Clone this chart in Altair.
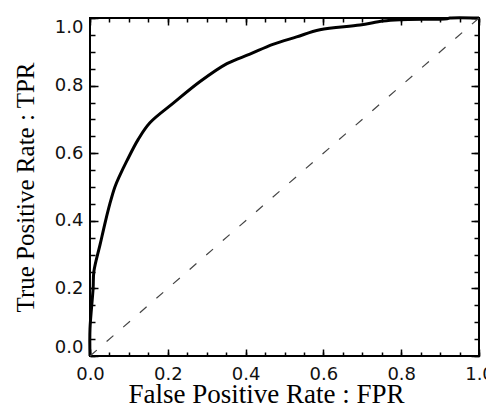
import altair as alt
import pandas as pd

# ROC curve
fpr = [0.0, 0.0, 0.008, 0.01, 0.026, 0.04, 0.051, 0.064, 0.077, 0.095, 0.124,
       0.154, 0.214, 0.283, 0.352, 0.411, 0.47, 0.531, 0.591, 0.694,
       0.753, 0.797, 0.918, 0.925, 1.0]
tpr = [0.0, 0.08, 0.2, 0.25, 0.33, 0.40, 0.45, 0.50, 0.535, 0.578, 0.641,
       0.69, 0.748, 0.812, 0.865, 0.893, 0.922, 0.944, 0.965, 0.979,
       0.991, 0.995, 0.998, 1.0, 1.0]
diag = [0.0, 1.0]
major_ticks = [0.0, 0.2, 0.4, 0.6, 0.8, 1.0]
minor_ticks = [0.0, 0.05, 0.1, 0.15, 0.2, 0.25, 0.3, 0.35, 0.4, 0.45, 0.5,
               0.55, 0.6, 0.65, 0.7, 0.75, 0.8, 0.85, 0.9, 0.95, 1.0]

x_title = "False Positive Rate : FPR"
y_title = "True Positive Rate : TPR"

W, H = 389, 338
LABEL_FONT = "DejaVu Sans"
TITLE_FONT = "Liberation Serif"

curve_df = pd.DataFrame({"fpr": fpr, "tpr": tpr})
diag_df = pd.DataFrame({"fpr": diag, "tpr": diag})

sc = alt.Scale(domain=[0, 1], nice=False, zero=False)


def tick_axis(orient, values, size, offset):
    return alt.Axis(orient=orient, values=values, tickSize=size, offset=offset,
                    labels=False, domain=False, grid=False,
                    tickColor="black", tickWidth=1.5)


x_label_axis = alt.Axis(orient="bottom", values=major_ticks, format=".1f",
                        ticks=False, tickSize=0, domain=False, grid=False,
                        labelFont=LABEL_FONT, labelFontSize=18, labelColor="#111",
                        labelPadding=9, labelFlush=False,
                        title=x_title, titleFont=TITLE_FONT, titleFontSize=27,
                        titleFontWeight="normal", titleColor="black",
                        titleX=176, titleY=46, titleBaseline="alphabetic",
                        titleAlign="center")
y_label_axis = alt.Axis(orient="left", values=major_ticks, format=".1f",
                        ticks=False, tickSize=0, domain=False, grid=False,
                        labelFont=LABEL_FONT, labelFontSize=18, labelColor="#111",
                        labelPadding=7, labelFlush=True,
                        title=y_title, titleFont=TITLE_FONT, titleFontSize=25,
                        titleFontWeight="normal", titleColor="black",
                        titleX=-57, titleY=H / 2, titleBaseline="alphabetic",
                        titleAlign="center")

curve = alt.Chart(curve_df).mark_line(color="black", strokeWidth=3,
                                      interpolate="catmull-rom").encode(
    x=alt.X("fpr:Q", scale=sc, axis=x_label_axis),
    y=alt.Y("tpr:Q", scale=sc, axis=y_label_axis),
    order="fpr:Q",
)

diag_line = alt.Chart(diag_df).mark_line(color="#444", strokeWidth=1.2,
                                         strokeDash=[9, 13]).encode(
    x=alt.X("fpr:Q", scale=sc, title=None, axis=tick_axis("top", major_ticks, 7, -H)),
    y=alt.Y("tpr:Q", scale=sc, title=None, axis=tick_axis("right", major_ticks, 8, -W)),
)


def ghost(xaxis, yaxis):
    return alt.Chart(diag_df).mark_point(opacity=0).encode(
        x=alt.X("fpr:Q", scale=sc, title=None, axis=xaxis),
        y=alt.Y("tpr:Q", scale=sc, title=None, axis=yaxis),
    )


g1 = ghost(tick_axis("top", minor_ticks, 4, -H), tick_axis("right", minor_ticks, 5, -W))
g2 = ghost(tick_axis("bottom", major_ticks, 7, -H), tick_axis("left", major_ticks, 8, -W))
g3 = ghost(tick_axis("bottom", minor_ticks, 4, -H), tick_axis("left", minor_ticks, 5, -W))

chart = alt.layer(curve, diag_line, g1, g2, g3).resolve_axis(
    x="independent", y="independent"
).properties(
    width=W, height=H,
    autosize=alt.AutoSizeParams(type="none"),
    padding={"left": 82, "top": 10, "right": 7, "bottom": 48},
    background="white",
).configure_view(stroke="black", strokeWidth=2)

chart.save("out.html", embed_options={"renderer": "svg", "actions": False})
